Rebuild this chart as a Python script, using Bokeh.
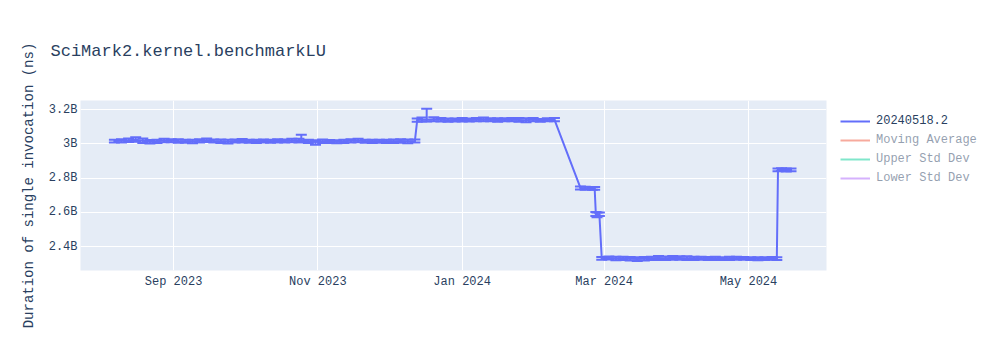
from datetime import datetime
import pandas as pd
from bokeh.plotting import figure
from bokeh.models import (ColumnDataSource, Range1d, FixedTicker, Whisker, TeeHead,
                          Legend, LegendItem)
from bokeh.embed import file_html
from bokeh.resources import INLINE

# ---------------- data ----------------
dates = [
    "2023-08-07", "2023-08-10", "2023-08-13", "2023-08-16", "2023-08-19", "2023-08-22",
    "2023-08-25", "2023-08-28", "2023-08-31", "2023-09-03", "2023-09-06", "2023-09-09",
    "2023-09-12", "2023-09-15", "2023-09-18", "2023-09-21", "2023-09-24", "2023-09-27",
    "2023-09-30", "2023-10-03", "2023-10-06", "2023-10-09", "2023-10-12", "2023-10-15",
    "2023-10-18", "2023-10-21", "2023-10-24", "2023-10-25", "2023-10-28", "2023-10-31",
    "2023-11-03", "2023-11-06", "2023-11-09", "2023-11-12", "2023-11-15", "2023-11-18",
    "2023-11-21", "2023-11-24", "2023-11-27", "2023-11-30", "2023-12-03", "2023-12-06",
    "2023-12-09", "2023-12-12",
    "2023-12-13", "2023-12-15", "2023-12-17", "2023-12-20", "2023-12-23", "2023-12-26",
    "2023-12-29", "2024-01-01", "2024-01-04", "2024-01-07", "2024-01-10", "2024-01-13",
    "2024-01-16", "2024-01-19", "2024-01-22", "2024-01-25", "2024-01-28", "2024-01-31",
    "2024-02-03", "2024-02-06", "2024-02-09",
    "2024-02-20", "2024-02-22", "2024-02-25", "2024-02-26 00:00",
    "2024-02-26 12:00", "2024-02-27", "2024-02-28",
    "2024-02-29", "2024-03-03", "2024-03-06", "2024-03-09", "2024-03-12", "2024-03-15",
    "2024-03-18", "2024-03-21", "2024-03-24", "2024-03-27", "2024-03-30", "2024-04-02",
    "2024-04-05", "2024-04-08", "2024-04-11", "2024-04-14", "2024-04-17", "2024-04-20",
    "2024-04-23", "2024-04-26", "2024-04-29", "2024-05-02", "2024-05-05", "2024-05-08",
    "2024-05-11", "2024-05-13 00:00",
    "2024-05-13 12:00", "2024-05-15", "2024-05-17", "2024-05-19",
]

# duration, billions of ns
duration_b = [
    3.016, 3.017, 3.020, 3.024, 3.018, 3.012,
    3.014, 3.019, 3.018, 3.016, 3.015, 3.013,
    3.017, 3.020, 3.016, 3.015, 3.012, 3.016,
    3.018, 3.015, 3.014, 3.016, 3.015, 3.017,
    3.016, 3.019, 3.018, 3.020, 3.014, 3.010,
    3.015, 3.013, 3.012, 3.014, 3.017, 3.019,
    3.015, 3.014, 3.015, 3.014, 3.015, 3.016,
    3.014, 3.016,
    3.138, 3.142, 3.140, 3.143, 3.140, 3.138,
    3.139, 3.140, 3.139, 3.141, 3.143, 3.140,
    3.139, 3.140, 3.141, 3.139, 3.137, 3.141,
    3.136, 3.140, 3.141,
    2.742, 2.740, 2.740, 2.739,
    2.590, 2.585, 2.588,
    2.331, 2.333, 2.330, 2.331, 2.329, 2.327,
    2.329, 2.331, 2.333, 2.332, 2.334, 2.333,
    2.332, 2.331, 2.332, 2.330, 2.331, 2.330,
    2.331, 2.332, 2.331, 2.330, 2.329, 2.330,
    2.331, 2.330,
    2.848, 2.849, 2.847, 2.848,
]

# error bar half-widths above / below, billions of ns
err_up_b = [
    0.008, 0.009, 0.010, 0.014, 0.013, 0.010,
    0.009, 0.010, 0.009, 0.010, 0.009, 0.010,
    0.009, 0.010, 0.009, 0.010, 0.011, 0.009,
    0.010, 0.009, 0.010, 0.009, 0.009, 0.010,
    0.009, 0.010, 0.011, 0.032, 0.010, 0.011,
    0.010, 0.009, 0.009, 0.009, 0.010, 0.010,
    0.009, 0.009, 0.009, 0.009, 0.010, 0.010,
    0.011, 0.009,
    0.010, 0.012, 0.064, 0.012, 0.010, 0.010,
    0.009, 0.010, 0.009, 0.010, 0.011, 0.009,
    0.010, 0.009, 0.010, 0.011, 0.012, 0.010,
    0.008, 0.009, 0.009,
    0.009, 0.009, 0.008, 0.008,
    0.012, 0.014, 0.010,
    0.008, 0.009, 0.010, 0.009, 0.010, 0.011,
    0.010, 0.010, 0.011, 0.010, 0.011, 0.010,
    0.011, 0.009, 0.009, 0.009, 0.009, 0.008,
    0.009, 0.009, 0.008, 0.008, 0.009, 0.008,
    0.008, 0.008,
    0.008, 0.008, 0.009, 0.008,
]
err_down_b = [
    0.008, 0.009, 0.010, 0.012, 0.013, 0.010,
    0.009, 0.010, 0.009, 0.010, 0.009, 0.010,
    0.009, 0.010, 0.009, 0.010, 0.011, 0.009,
    0.010, 0.009, 0.010, 0.009, 0.009, 0.010,
    0.009, 0.010, 0.011, 0.010, 0.010, 0.016,
    0.010, 0.009, 0.009, 0.009, 0.010, 0.010,
    0.009, 0.009, 0.009, 0.009, 0.010, 0.010,
    0.011, 0.009,
    0.010, 0.012, 0.010, 0.012, 0.010, 0.010,
    0.009, 0.010, 0.009, 0.010, 0.011, 0.009,
    0.010, 0.009, 0.010, 0.011, 0.012, 0.010,
    0.008, 0.009, 0.009,
    0.009, 0.009, 0.008, 0.008,
    0.012, 0.014, 0.010,
    0.008, 0.009, 0.010, 0.009, 0.010, 0.011,
    0.010, 0.010, 0.011, 0.010, 0.011, 0.010,
    0.011, 0.009, 0.009, 0.009, 0.009, 0.008,
    0.009, 0.009, 0.008, 0.008, 0.009, 0.008,
    0.008, 0.008,
    0.008, 0.008, 0.009, 0.008,
]

series_name = "20240518.2"
hidden_series = ["Moving Average", "Upper Std Dev", "Lower Std Dev"]
hidden_colors = ["#EF553B", "#00cc96", "#ab63fa"]

x_tick_dates = ["2023-09-01", "2023-11-01", "2024-01-01", "2024-03-01", "2024-05-01"]
x_tick_labels = ["Sep 2023", "Nov 2023", "Jan 2024", "Mar 2024", "May 2024"]
y_tick_values_b = [2.4, 2.6, 2.8, 3.0, 3.2]
y_tick_labels = ["2.4B", "2.6B", "2.8B", "3B", "3.2B"]

title_text = "SciMark2.kernel.benchmarkLU"
y_label = "Duration of single invocation (ns)"

# ---------------- build ----------------
FONT = "Liberation Mono"
TXT = "#2a3f5f"
LINE = "#636efa"

x = pd.to_datetime(dates, format="mixed")
y = [v * 1e9 for v in duration_b]
up = [(v + e) * 1e9 for v, e in zip(duration_b, err_up_b)]
lo = [(v - e) * 1e9 for v, e in zip(duration_b, err_down_b)]
src = ColumnDataSource(dict(x=x, y=y, up=up, lo=lo))

p = figure(frame_width=746, frame_height=170, x_axis_type="datetime", output_backend="svg",
           toolbar_location=None,
           x_range=Range1d(datetime(2023, 7, 23, 16), datetime(2024, 6, 3)),
           y_range=Range1d(2.26e9, 3.2526e9),
           min_border_left=80, min_border_right=0, min_border_top=100,
           min_border_bottom=80)
p.background_fill_color = "#E5ECF6"
p.border_fill_color = "white"
p.outline_line_color = None

p.title.text = title_text
p.title.text_font = FONT
p.title.text_font_size = "17px"
p.title.text_font_style = "normal"
p.title.text_color = TXT
p.title.offset = -30
p.title.standoff = 79

# axes
xt = [pd.Timestamp(d).value // 10**6 for d in x_tick_dates]
p.xaxis.ticker = FixedTicker(ticks=xt)
p.xaxis.major_label_overrides = {t: l for t, l in zip(xt, x_tick_labels)}
yt = [v * 1e9 for v in y_tick_values_b]
p.yaxis.ticker = FixedTicker(ticks=yt)
p.yaxis.major_label_overrides = {t: l for t, l in zip(yt, y_tick_labels)}
for ax in (p.xaxis[0], p.yaxis[0]):
    ax.axis_line_color = None
    ax.major_tick_line_color = None
    ax.minor_tick_line_color = None
    ax.major_tick_out = 0
    ax.major_tick_in = 0
    ax.major_label_text_font = FONT
    ax.major_label_text_font_size = "12px"
    ax.major_label_text_color = TXT
p.xaxis.major_label_standoff = 4
p.yaxis.major_label_standoff = 3
p.yaxis.axis_label = y_label
p.yaxis.axis_label_text_font = FONT
p.yaxis.axis_label_text_font_size = "14px"
p.yaxis.axis_label_text_font_style = "normal"
p.yaxis.axis_label_text_color = TXT
p.yaxis.axis_label_standoff = 9

p.xgrid.grid_line_color = "white"
p.ygrid.grid_line_color = "white"
p.xgrid.grid_line_width = 1
p.ygrid.grid_line_width = 1

# error bars
w = Whisker(source=src, base="x", upper="up", lower="lo", dimension="height",
            line_color=LINE, line_width=2,
            upper_head=TeeHead(size=11, line_color=LINE, line_width=2),
            lower_head=TeeHead(size=11, line_color=LINE, line_width=2))
p.add_layout(w)

main = p.line("x", "y", source=src, line_color=LINE, line_width=2)

# legend-only traces (hidden in the reference): no drawable values
items = [LegendItem(label=series_name, renderers=[main])]
nan_y = [float("nan")] * len(x)
for name, c in zip(hidden_series, hidden_colors):
    r = p.line(x=x, y=nan_y, line_color=c, line_width=2,
               muted_line_color=c, muted_line_alpha=1.0)
    r.muted = True
    items.append(LegendItem(label=name, renderers=[r]))

legend = Legend(items=items, location="top_left", orientation="vertical",
                click_policy="mute")
legend.background_fill_alpha = 0
legend.border_line_color = None
legend.label_text_font = FONT
legend.label_text_font_size = "12px"
legend.label_text_color = TXT
legend.glyph_width = 30
legend.glyph_height = 14
legend.label_height = 14
legend.label_standoff = 6
legend.spacing = 5
legend.padding = 8
legend.margin = 14
legend.inactive_fill_color = "white"
legend.inactive_fill_alpha = 0.5
p.add_layout(legend, "right")

open("out.html", "w").write(file_html(p, INLINE))
